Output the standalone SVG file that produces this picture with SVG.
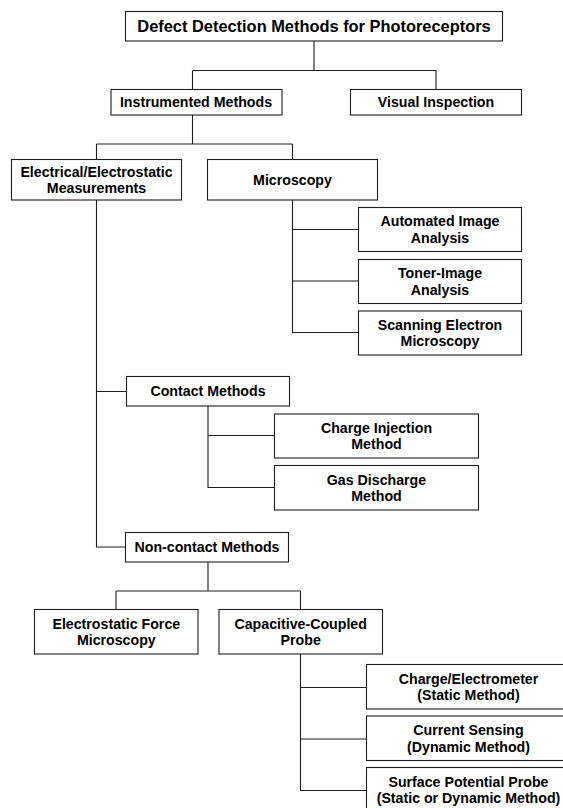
<svg xmlns="http://www.w3.org/2000/svg" width="563" height="808" viewBox="0 0 563 808">
  <style>
    .box { fill: #ffffff; stroke: #1e1e1e; stroke-width: 1.1; }
    .lbl { font-family: "Liberation Sans", Arial, sans-serif; font-weight: bold; font-size: 14.2px; fill: #000; text-anchor: middle; }
    .title { font-size: 16.4px; }
    .conn { fill: none; stroke: #1e1e1e; stroke-width: 1.1; }
  </style>
  <rect x="0" y="0" width="563" height="808" fill="#ffffff"/>
  <g id="connectors">
    <path class="conn" d="M314 41 V70.5 M192.5 70.5 H436 M192.5 70.5 V89.5 M436 70.5 V89.5"/>
    <path class="conn" d="M192.5 115 V144 M96.5 144 H292.5 M96.5 144 V159.5 M292.5 144 V159.5"/>
    <path class="conn" d="M292.5 200 V332.5 H358.5 M292.5 229.5 H358.5 M292.5 281 H358.5"/>
    <path class="conn" d="M96.5 200 V547 H125.5 M96.5 391.5 H126.5"/>
    <path class="conn" d="M208 406 V487.5 H274.5 M208 435.5 H274.5"/>
    <path class="conn" d="M208 562 V591 M116 591 H300.5 M116 591 V609.5 M300.5 591 V609.5"/>
    <path class="conn" d="M300.5 654 V790.5 H366.5 M300.5 687.5 H366.5 M300.5 739 H366.5"/>
  </g>
  <g id="root">
    <rect class="box" x="125.5" y="11.5" width="377" height="29.5"/>
    <text class="lbl title" x="314" y="31.8">Defect Detection Methods for Photoreceptors</text>
  </g>
  <g id="instrumented">
    <rect class="box" x="111" y="89.5" width="171" height="25.5"/>
    <text class="lbl" x="196" y="107.3">Instrumented Methods</text>
  </g>
  <g id="visual">
    <rect class="box" x="350.5" y="89.5" width="171" height="25.5"/>
    <text class="lbl" x="436" y="107.3">Visual Inspection</text>
  </g>
  <g id="electrical">
    <rect class="box" x="11.5" y="159.5" width="170" height="40.5"/>
    <text class="lbl" x="96.5" y="176.5">Electrical/Electrostatic</text>
    <text class="lbl" x="96.5" y="193">Measurements</text>
  </g>
  <g id="microscopy">
    <rect class="box" x="207.5" y="159.5" width="170" height="40.5"/>
    <text class="lbl" x="292.5" y="184.7">Microscopy</text>
  </g>
  <g id="automated">
    <rect class="box" x="358.5" y="207.5" width="163" height="44"/>
    <text class="lbl" x="440" y="226.2">Automated Image</text>
    <text class="lbl" x="440" y="242.7">Analysis</text>
  </g>
  <g id="toner">
    <rect class="box" x="358.5" y="259.5" width="163" height="44"/>
    <text class="lbl" x="440" y="278.2">Toner-Image</text>
    <text class="lbl" x="440" y="294.7">Analysis</text>
  </g>
  <g id="sem">
    <rect class="box" x="358.5" y="311" width="163" height="44"/>
    <text class="lbl" x="440" y="329.7">Scanning Electron</text>
    <text class="lbl" x="440" y="346.2">Microscopy</text>
  </g>
  <g id="contact">
    <rect class="box" x="126.5" y="376.5" width="163" height="29.5"/>
    <text class="lbl" x="208" y="396.3">Contact Methods</text>
  </g>
  <g id="charge-injection">
    <rect class="box" x="274.5" y="414" width="204" height="44"/>
    <text class="lbl" x="376.5" y="432.7">Charge Injection</text>
    <text class="lbl" x="376.5" y="449.2">Method</text>
  </g>
  <g id="gas-discharge">
    <rect class="box" x="274.5" y="465.5" width="204" height="44.5"/>
    <text class="lbl" x="376.5" y="484.5">Gas Discharge</text>
    <text class="lbl" x="376.5" y="501">Method</text>
  </g>
  <g id="non-contact">
    <rect class="box" x="125.5" y="532.5" width="163" height="29.5"/>
    <text class="lbl" x="207" y="552.3">Non-contact Methods</text>
  </g>
  <g id="efm">
    <rect class="box" x="34.5" y="609.5" width="163.5" height="44.5"/>
    <text class="lbl" x="116.3" y="628.5">Electrostatic Force</text>
    <text class="lbl" x="116.3" y="645">Microscopy</text>
  </g>
  <g id="ccp">
    <rect class="box" x="219" y="609.5" width="163.5" height="44.5"/>
    <text class="lbl" x="300.7" y="628.5">Capacitive-Coupled</text>
    <text class="lbl" x="300.7" y="645">Probe</text>
  </g>
  <g id="charge-electrometer">
    <rect class="box" x="366.5" y="664.5" width="204" height="44.5"/>
    <text class="lbl" x="468.5" y="683.5">Charge/Electrometer</text>
    <text class="lbl" x="468.5" y="700">(Static Method)</text>
  </g>
  <g id="current-sensing">
    <rect class="box" x="366.5" y="716" width="204" height="44.5"/>
    <text class="lbl" x="468.5" y="735">Current Sensing</text>
    <text class="lbl" x="468.5" y="751.5">(Dynamic Method)</text>
  </g>
  <g id="surface-potential">
    <rect class="box" x="366.5" y="767.5" width="204" height="44.5"/>
    <text class="lbl" x="468.5" y="786.5">Surface Potential Probe</text>
    <text class="lbl" x="468.5" y="803">(Static or Dynamic Method)</text>
  </g>
</svg>
